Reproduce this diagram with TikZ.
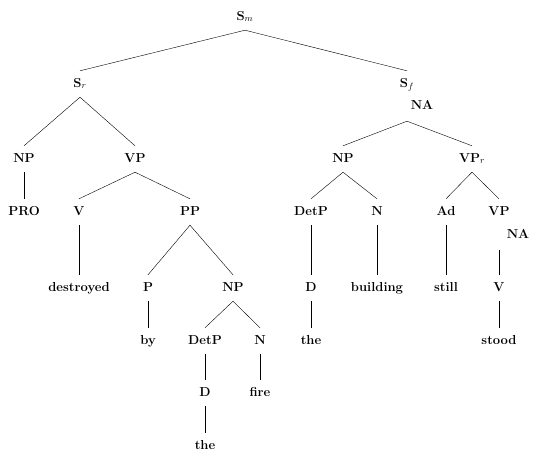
\documentclass[tikz,border=0pt]{standalone}
\usepackage{amsmath}
\usepackage{tikz}
\usetikzlibrary{positioning}

\begin{document}
\begin{tikzpicture}[x=1pt, y=-1pt,
      every node/.style={font=\fontsize{13}{15}\selectfont\bfseries, inner xsep=1pt, inner ysep=8pt,
        text height=8pt, text depth=2pt},
      na/.style={inner ysep=10pt}]
  \useasboundingbox (0,0) rectangle (538,461);
  % top
  \node (sm) at (245,17) {S$_m$};
  \node (sr) at (80,84) {S$_r$};
  \node (sf) at (407,84) {S$_f$};
  \node[na] (sfna) at (422,106) {NA};
  \coordinate (sfbot) at (sf |- sfna.south);
  % left half
  \node (np1) at (24,159) {NP};
  \node (vp1) at (135,159) {VP};
  \node (pro) at (24,212) {PRO};
  \node (v1) at (79,212) {V};
  \node (pp) at (190,212) {PP};
  \node (destroyed) at (79,288) {destroyed};
  \node (p) at (148,288) {P};
  \node (np2) at (233,288) {NP};
  \node (by) at (148,341) {by};
  \node (detp1) at (205,341) {DetP};
  \node (n1) at (260,341) {N};
  \node (d1) at (205,393) {D};
  \node (fire) at (260,393) {fire};
  \node (the1) at (205,446) {the};
  % right half
  \node (np3) at (343,159) {NP};
  \node (vpr) at (472,159) {VP$_r$};
  \node (detp2) at (311,212) {DetP};
  \node (n2) at (377,212) {N};
  \node (ad) at (446,212) {Ad};
  \node (vp2) at (499,212) {VP};
  \node[na] (vpna) at (518,235) {NA};
  \coordinate (vpbot) at (vp2 |- vpna.south);
  \node (d2) at (311,288) {D};
  \node (building) at (377,288) {building};
  \node (still) at (446,288) {still};
  \node (v2) at (499,288) {V};
  \node (the2) at (311,341) {the};
  \node (stood) at (499,341) {stood};

  \draw (sm.south) -- (sr.north);
  \draw (sm.south) -- (sf.north);
  \draw (sr.south) -- (np1.north);
  \draw (sr.south) -- (vp1.north);
  \draw (np1.south) -- (pro.north);
  \draw (vp1.south) -- (v1.north);
  \draw (vp1.south) -- (pp.north);
  \draw (v1.south) -- (destroyed.north);
  \draw (pp.south) -- (p.north);
  \draw (pp.south) -- (np2.north);
  \draw (p.south) -- (by.north);
  \draw (np2.south) -- (detp1.north);
  \draw (np2.south) -- (n1.north);
  \draw (detp1.south) -- (d1.north);
  \draw (n1.south) -- (fire.north);
  \draw (d1.south) -- (the1.north);

  \draw (sfbot) -- (np3.north);
  \draw (sfbot) -- (vpr.north);
  \draw (np3.south) -- (detp2.north);
  \draw (np3.south) -- (n2.north);
  \draw (vpr.south) -- (ad.north);
  \draw (vpr.south) -- (vp2.north);
  \draw (detp2.south) -- (d2.north);
  \draw (n2.south) -- (building.north);
  \draw (ad.south) -- (still.north);
  \draw (vpbot) -- (v2.north);
  \draw (d2.south) -- (the2.north);
  \draw (v2.south) -- (stood.north);
\end{tikzpicture}
\end{document}
